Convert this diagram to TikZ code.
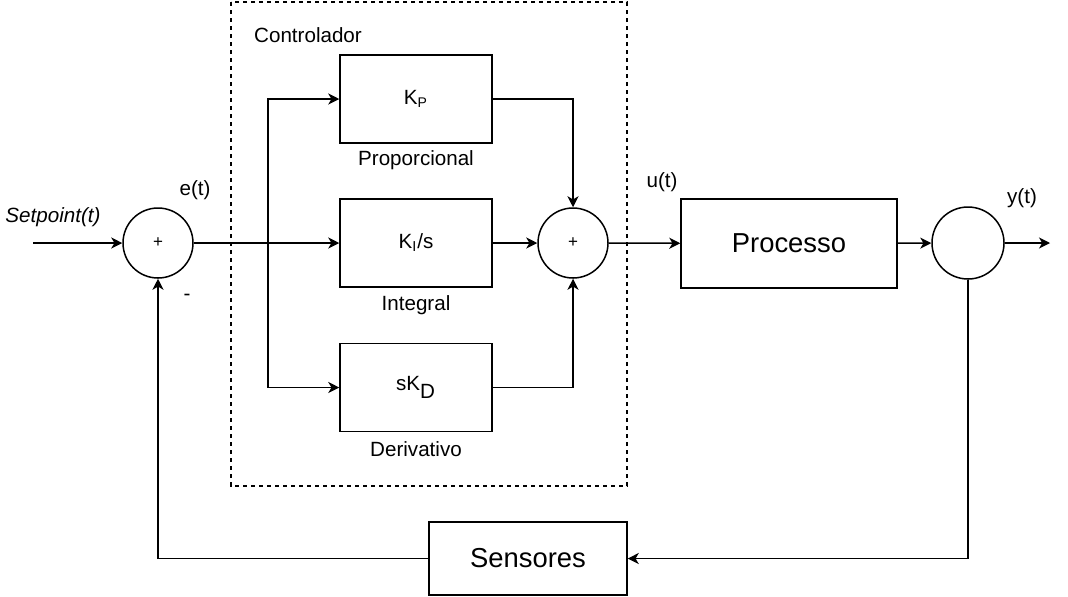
\documentclass[tikz,border=0pt]{standalone}
\usepackage{fontspec}
\setmainfont{Liberation Sans}
\usepackage{tikz}
\usetikzlibrary{arrows.meta, positioning, calc}
\tikzset{
    box_block/.style={
        rectangle, draw=black, line width=0.75pt,
        minimum width=76pt, minimum height=44pt,
        align=center, font=\fontsize{10.3}{12}\selectfont
    },
    box_big/.style={
        rectangle, draw=black, line width=0.75pt,
        align=center, font=\fontsize{13.7}{16}\selectfont
    },
    sum_node/.style={
        circle, draw=black, line width=0.75pt, minimum size=35pt,
        inner sep=0pt, font=\fontsize{8.5}{10}\selectfont
    },
    pipe_arrow/.style={
        -{Stealth[length=5.5pt, width=5.5pt, inset=1.6pt]}, draw=black, line width=0.75pt
    },
    ctrl_frame/.style={
        draw=black, line width=0.75pt, dash pattern=on 2.2pt off 1.8pt
    },
    lbl/.style={
        font=\fontsize{10.3}{12}\selectfont, inner sep=0pt
    }
}

\begin{document}
\begin{tikzpicture}[x=0.5pt, y=-0.5pt]
    \useasboundingbox (0,0) rectangle (1068,596);

    % Controller frame
    \draw[ctrl_frame] (231,2) rectangle (627,486);
    \node[lbl] (ctrl_lbl) at (308,35) {Controlador};

    % Summing junctions
    \node[sum_node] (sum_err) at (158,243) {+};
    \node[sum_node] (sum_pid) at (573,243) {+};
    \node[sum_node, minimum size=36pt] (out_node) at (968,243) {};

    % PID blocks
    \node[box_block] (kp) at (416,99) {K\textsubscript{\fontsize{7}{8}\selectfont P}};
    \node[box_block] (ki) at (416,243) {K\textsubscript{I}/s};
    \node[box_block] (kd) at (416,387.5) {sK\textsubscript{\fontsize{10.3}{12}\selectfont D}};
    \node[lbl] (kp_lbl) at (416,160) {Proporcional};
    \node[lbl] (ki_lbl) at (416,305) {Integral};
    \node[lbl] (kd_lbl) at (416,449) {Derivativo};

    % Plant and feedback
    \node[box_big, minimum width=108pt, minimum height=44.5pt] (proc) at (789,243.5) {Processo};
    \node[box_big, minimum width=99pt, minimum height=36.5pt] (sens) at (528,558.5) {Sensores};

    % Signal labels
    \node[lbl, font=\fontsize{10.3}{12}\selectfont\itshape] (sp_lbl) at (53,217) {Setpoint(t)};
    \node[lbl] (e_lbl) at (195,190) {e(t)};
    \node[lbl] (minus_lbl) at (187,297) {-};
    \node[lbl] (u_lbl) at (662,182) {u(t)};
    \node[lbl] (y_lbl) at (1022,198) {y(t)};

    \coordinate (sp_in) at (33,243);
    \coordinate (split) at (268,243);
    \coordinate (y_out) at (1050,243);

    % Connectors
    \draw[pipe_arrow] (sp_in) -- (sum_err);
    \draw[pipe_arrow] (sum_err) -- (ki);
    \draw[pipe_arrow] (split) |- (kp);
    \draw[pipe_arrow] (split) |- (kd);
    \draw[pipe_arrow] (kp) -| (sum_pid);
    \draw[pipe_arrow] (ki) -- (sum_pid);
    \draw[pipe_arrow] (kd) -| (sum_pid);
    \draw[pipe_arrow] (sum_pid) -- (proc);
    \draw[pipe_arrow] (proc) -- (out_node);
    \draw[pipe_arrow] (out_node) -- (y_out);
    \draw[pipe_arrow] (out_node) |- (sens);
    \draw[pipe_arrow] (sens) -| (sum_err);
\end{tikzpicture}
\end{document}
